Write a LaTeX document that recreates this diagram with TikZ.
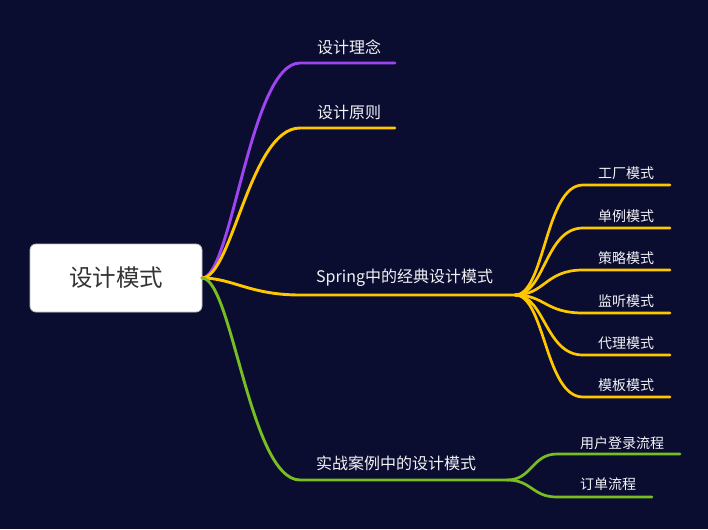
\documentclass[tikz,border=0pt]{standalone}
\usepackage{fontspec}
\setmainfont{Noto Sans CJK SC}
\definecolor{bg}{HTML}{0A0D30}
\definecolor{cpurple}{HTML}{A044F2}
\definecolor{cyellow}{HTML}{FFC700}
\definecolor{cgreen}{HTML}{78BE20}
\definecolor{ctext}{HTML}{F2F2F6}
\begin{document}
\begin{tikzpicture}[x=1pt,y=-1pt,
  rootbox/.style={draw=gray!50, line width=0.8pt, fill=white, rounded corners=6pt, minimum width=172pt, minimum height=68pt, inner sep=0pt, text=black!80, font=\fontsize{23.5}{28}\selectfont},
  maintext/.style={anchor=west, inner sep=0pt, text=ctext, font=\fontsize{16}{19}\selectfont},
  subtext/.style={anchor=west, inner sep=0pt, text=ctext, font=\fontsize{14}{17}\selectfont},
  branch/.style={line width=2.9pt, line cap=round},
  leaf/.style={line width=2.7pt, line cap=round}]
\fill[bg] (0,0) rectangle (708,529);
\useasboundingbox (0,0) rectangle (708,529);

% root
\node[rootbox] (root) at (116,278) {设计模式};
\coordinate (r) at (202,278);

% level 1 coordinates
\coordinate (a1) at (300,63);  \coordinate (a1e) at (395,63);
\coordinate (a2) at (300,128); \coordinate (a2e) at (395,128);
\coordinate (a3) at (300,295); \coordinate (a3e) at (515,295);
\coordinate (a4) at (300,480); \coordinate (a4e) at (507,480);

\draw[branch, cpurple] (r) .. controls (232,278) and (250,63) .. (a1) -- (a1e);
\draw[branch, cyellow] (r) .. controls (232,278) and (250,128) .. (a2) -- (a2e);
\draw[branch, cyellow] (r) .. controls (232,278) and (250,295) .. (a3) -- (a3e);
\draw[branch, cgreen] (r) .. controls (232,278) and (250,480) .. (a4) -- (a4e);

\node[maintext] (t1) at (317,47) {设计理念};
\node[maintext] (t2) at (317,112) {设计原则};
\node[maintext] (t3) at (316,278) {Spring中的经典设计模式};
\node[maintext] (t4) at (316,463) {实战案例中的设计模式};

% Spring children
\foreach \n/\y/\lab in {1/185/工厂模式, 2/228/单例模式, 3/270/策略模式, 4/313/监听模式, 5/355/代理模式, 6/397/模板模式}{
  \coordinate (s\n) at (583,\y);
  \coordinate (s\n e) at (670,\y);
  \draw[leaf, cyellow] (a3e) .. controls (545,295) and (545,\y) .. (s\n) -- (s\n e);
  \node[subtext] (st\n) at (598,\y-12) {\lab};
}

% practice children
\coordinate (g1) at (557,454); \coordinate (g1e) at (680,454);
\coordinate (g2) at (557,497); \coordinate (g2e) at (652,497);
\draw[leaf, cgreen] (a4e) .. controls (532,480) and (532,454) .. (g1) -- (g1e);
\draw[leaf, cgreen] (a4e) .. controls (532,480) and (532,497) .. (g2) -- (g2e);
\node[subtext] (gt1) at (580,443) {用户登录流程};
\node[subtext] (gt2) at (580,484) {订单流程};
\end{tikzpicture}
\end{document}
